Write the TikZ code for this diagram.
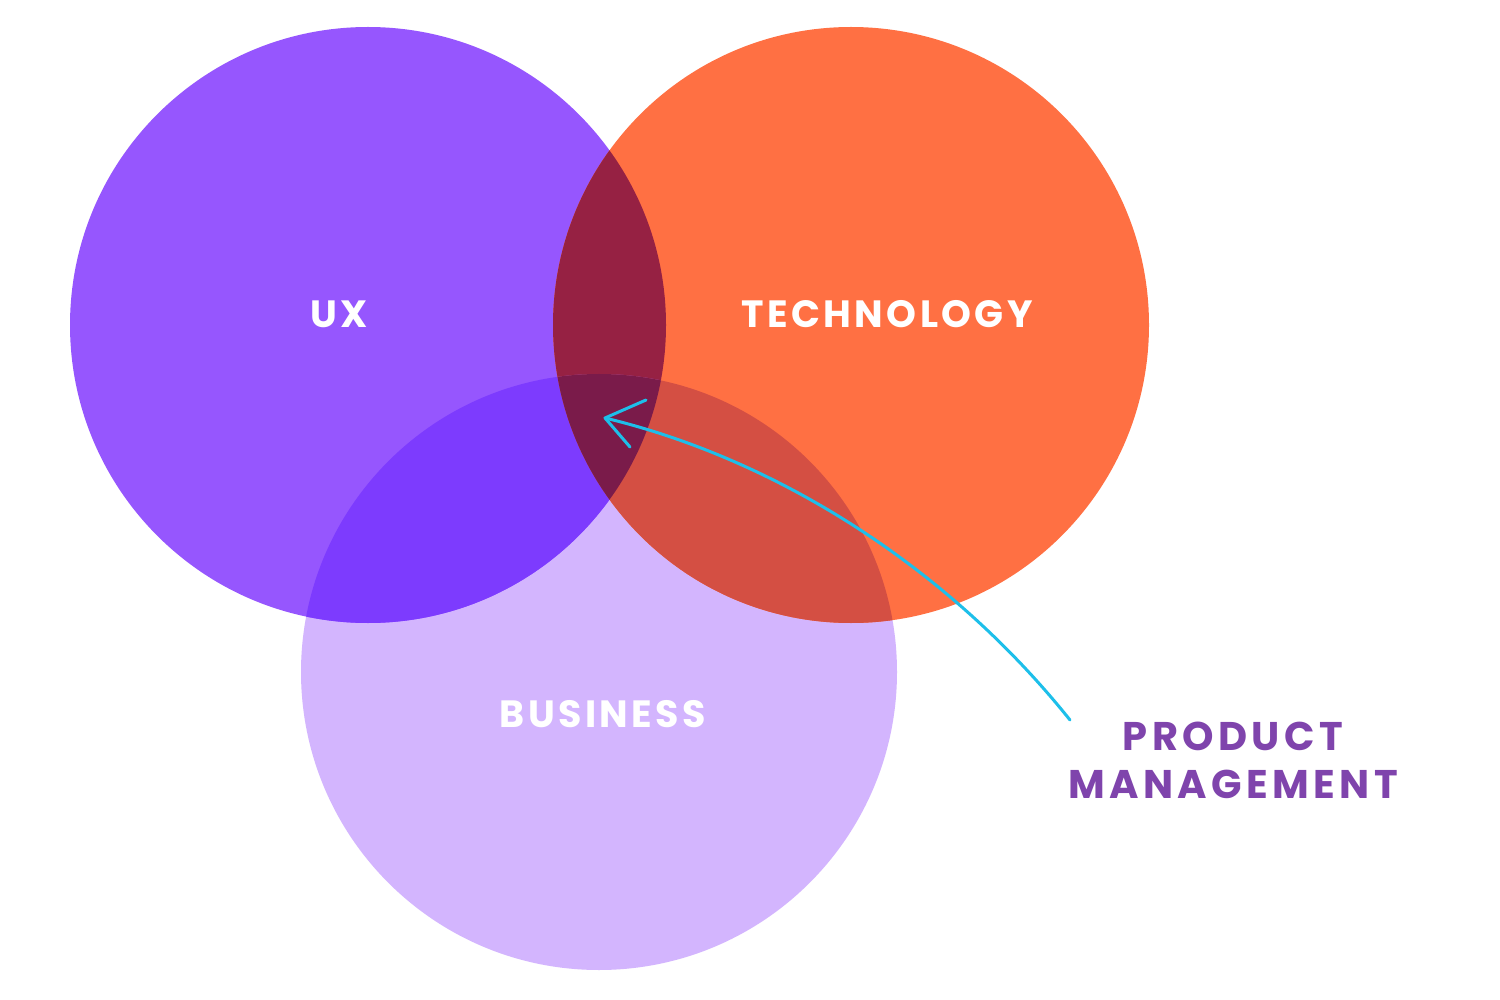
\documentclass[tikz,border=0pt]{standalone}
\usepackage{fontspec}
\setmainfont{Poppins}
\definecolor{uxc}{HTML}{9656FE}
\definecolor{techc}{HTML}{FF7043}
\definecolor{busc}{HTML}{D3B5FE}
\definecolor{uxtech}{HTML}{962143}
\definecolor{uxbus}{HTML}{7D3BFE}
\definecolor{techbus}{HTML}{D44F43}
\definecolor{allc}{HTML}{7A1B4A}
\definecolor{pmc}{HTML}{7F44AC}
\definecolor{arrowc}{HTML}{1DBFEA}
\begin{document}
\begin{tikzpicture}[x=1pt,y=-1pt,
  venn/.style={circle,minimum size=596pt,inner sep=0pt,draw=none},
  lbl/.style={text=white,font=\fontsize{38}{42}\selectfont\bfseries\addfontfeatures{LetterSpace=9}},
  pm/.style={text=pmc,align=center,font=\fontsize{40}{48}\selectfont\bfseries\addfontfeatures{LetterSpace=11}},
  pointer/.style={draw=arrowc,line width=3pt,line cap=round,line join=round}]
\useasboundingbox (0,0) rectangle (1500,1000);
\fill[white] (0,0) rectangle (1500,1000);
% circles
\node[venn,fill=busc] (bus) at (599,672) {};
\node[venn,fill=uxc] (ux) at (368,325) {};
\node[venn,fill=techc] (tech) at (851,325) {};
% pairwise overlaps
\begin{scope}
  \clip (ux.center) circle (298);
  \fill[uxtech] (tech.center) circle (298);
  \fill[uxbus] (bus.center) circle (298);
\end{scope}
\begin{scope}
  \clip (tech.center) circle (298);
  \fill[techbus] (bus.center) circle (298);
\end{scope}
\begin{scope}
  \clip (ux.center) circle (298);
  \clip (tech.center) circle (298);
  \fill[allc] (bus.center) circle (298);
\end{scope}
% labels
\node[lbl] (uxl) at (339,314) {UX};
\node[lbl] (techl) at (887,314) {TECHNOLOGY};
\node[lbl] (busl) at (603,714) {BUSINESS};
\node[pm] (pml) at (1233,760) {PRODUCT\\MANAGEMENT};
% arrow
\coordinate (start) at (1070,720);
\coordinate (tip) at (605,418);
\coordinate (h1) at (646,400);
\coordinate (h2) at (630,447);
\draw[pointer] (start) .. controls (950,570) and (780,460) .. (tip);
\draw[pointer] (h1) -- (tip) -- (h2);
\end{tikzpicture}
\end{document}
